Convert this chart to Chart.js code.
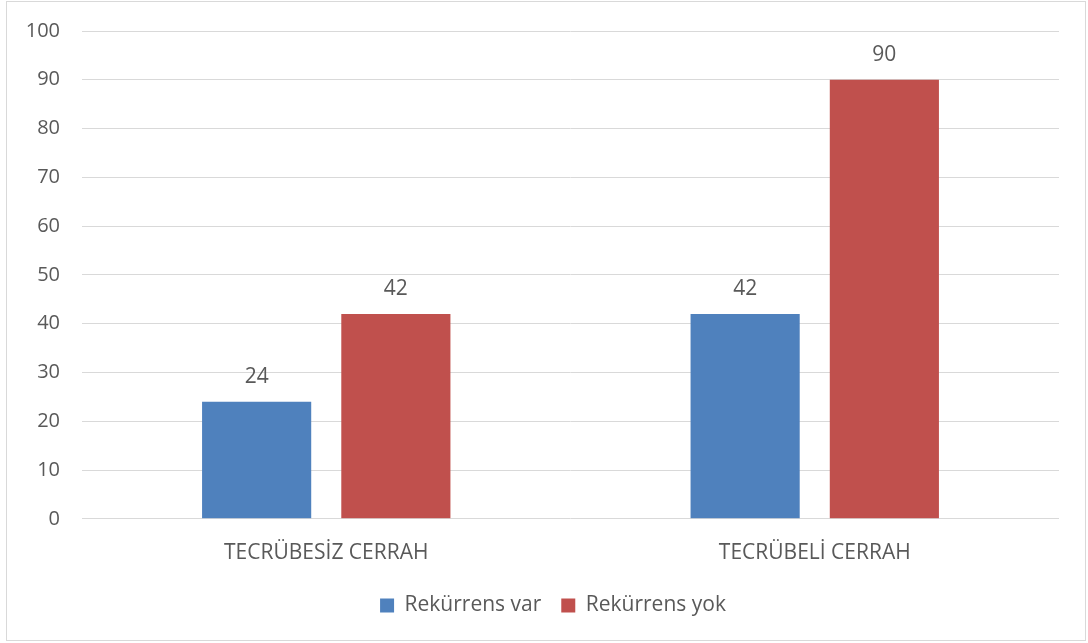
<!DOCTYPE html>
<html>
<head>
<meta charset="utf-8">
<script src="https://cdn.jsdelivr.net/npm/chart.js@4/dist/chart.umd.min.js"></script>
<style>
  html, body { margin: 0; padding: 0; background: #fff; }
  #wrap { position: relative; width: 1088px; height: 643px; }
  #frame { position: absolute; left: 6px; top: 1px; width: 1080px; height: 640px; border: 1px solid #d9d9d9; box-sizing: border-box; pointer-events: none; }
  canvas { position: absolute; left: 0; top: 0; }
</style>
</head>
<body>
<div id="wrap">
  <canvas id="chart" width="1088" height="643"></canvas>
  <div id="frame"></div>
</div>
<script>
const categories = ['TECRÜBESİZ CERRAH', 'TECRÜBELİ CERRAH'];
const seriesNames = ['Rekürrens var', 'Rekürrens yok'];
const rekurrensVar = [24, 42];
const rekurrensYok = [42, 90];
const yTicks = [0, 10, 20, 30, 40, 50, 60, 70, 80, 90, 100];

const FONT = "'Open Sans', 'Noto Sans', sans-serif";
const TEXT = '#595959';

// value labels above each bar
const valueLabels = {
  id: 'valueLabels',
  afterDatasetsDraw(chart) {
    const ctx = chart.ctx;
    ctx.save();
    ctx.font = `21px ${FONT}`;
    ctx.fillStyle = TEXT;
    ctx.textAlign = 'center';
    ctx.textBaseline = 'middle';
    chart.data.datasets.forEach((ds, i) => {
      chart.getDatasetMeta(i).data.forEach((bar, j) => {
        ctx.fillText(ds.data[j], bar.x, bar.y - 25);
      });
    });
    ctx.restore();
  }
};

new Chart(document.getElementById('chart'), {
  type: 'bar',
  data: {
    labels: categories,
    datasets: [
      { label: seriesNames[0], data: rekurrensVar, backgroundColor: '#4f81bd' },
      { label: seriesNames[1], data: rekurrensYok, backgroundColor: '#c0504d' }
    ]
  },
  options: {
    responsive: false,
    animation: false,
    categoryPercentage: 0.57,
    barPercentage: 0.784,
    layout: { padding: { top: 31, right: 0, bottom: 17, left: 18 } },
    scales: {
      x: {
        grid: { display: false },
        border: { display: false },
        afterFit(axis) { axis.height = axis.height - 5; },
        ticks: { color: TEXT, font: { family: FONT, size: 21 }, padding: 14 }
      },
      y: {
        min: 0,
        max: 100,
        afterBuildTicks(axis) { axis.ticks = yTicks.map(v => ({ value: v })); },
        afterFit(axis) { axis.width = 64; axis.paddingTop = 0; axis.paddingBottom = 0; },
        grid: { color: '#d9d9d9', lineWidth: 1, drawTicks: false },
        border: { display: false },
        ticks: { color: TEXT, font: { family: FONT, size: 20 }, padding: 22 }
      },
      // empty right-hand spacer so the plot ends where the reference's does
      spacer: {
        position: 'right',
        grid: { display: false },
        border: { display: false },
        ticks: { display: false },
        afterFit(axis) { axis.width = 29; axis.paddingTop = 0; axis.paddingBottom = 0; }
      }
    },
    plugins: {
      legend: {
        position: 'bottom',
        labels: {
          color: TEXT,
          font: { family: FONT, size: 21 },
          boxWidth: 14,
          boxHeight: 14,
          padding: 20
        }
      },
      tooltip: { enabled: false }
    }
  },
  plugins: [valueLabels]
});
</script>
</body>
</html>
